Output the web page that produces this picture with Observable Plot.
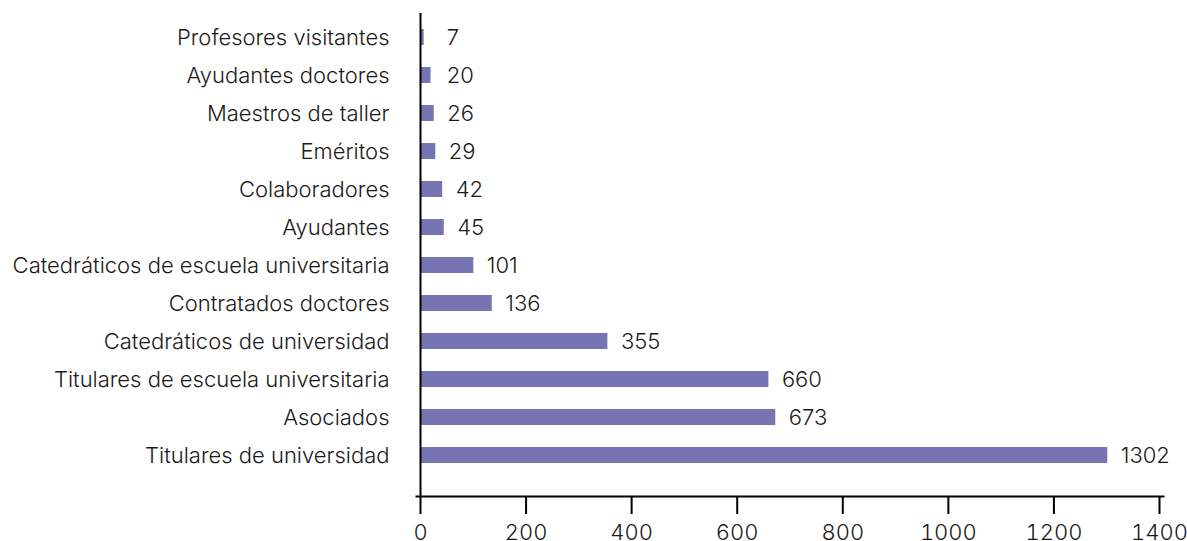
<!DOCTYPE html>
<html>
<head>
<meta charset="utf-8">
<script src="https://cdn.jsdelivr.net/npm/d3@7"></script>
<script src="https://cdn.jsdelivr.net/npm/@observablehq/plot@0.6"></script>
<style>
  html, body { margin: 0; padding: 0; background: #fff; }
  #chart svg { display: block; }
</style>
</head>
<body>
<div id="chart"></div>
<script>
const categories = [
  "Profesores visitantes",
  "Ayudantes doctores",
  "Maestros de taller",
  "Eméritos",
  "Colaboradores",
  "Ayudantes",
  "Catedráticos de escuela universitaria",
  "Contratados doctores",
  "Catedráticos de universidad",
  "Titulares de escuela universitaria",
  "Asociados",
  "Titulares de universidad"
];
const values = [7, 20, 26, 29, 42, 45, 101, 136, 355, 660, 673, 1302];
const xTicks = [0, 200, 400, 600, 800, 1000, 1200, 1400];

const data = categories.map((c, i) => ({category: c, value: values[i]}));

const font = "Inter, 'Liberation Sans', sans-serif";
const fs = 22;

const chart = Plot.plot({
  width: 1187,
  height: 541,
  marginTop: 13,
  marginBottom: 45,
  marginLeft: 416,
  marginRight: 24,
  style: {fontFamily: font, fontWeight: 300, color: "#1a1a1a", background: "#fff", overflow: "visible"},
  x: {domain: [0, 1400], range: [420, 1159]},
  y: {domain: categories, range: [4.8, 486.2], padding: 0.58},
  marks: [
    Plot.barX(data, {x: "value", y: "category", fill: "#7674b2"}),
    Plot.text(data, {
      x: d => Math.max(d.value, 25),
      y: "category",
      text: d => String(d.value),
      textAnchor: "start",
      dx: 13,
      fontSize: fs,
      fill: "#1a1a1a"
    }),
    Plot.axisY({tickSize: 0, tickPadding: 27, fontSize: fs, label: null}),
    Plot.axisX({ticks: xTicks, tickSize: 18, tickPadding: 10, fontSize: fs, strokeWidth: 2, stroke: "#000", label: null, tickFormat: d => String(d)}),
    Plot.frame({anchor: "bottom", stroke: "#000", strokeWidth: 2}),
    Plot.ruleX([0], {stroke: "#000", strokeWidth: 2})
  ]
});

document.getElementById("chart").appendChild(chart);
</script>
</body>
</html>
